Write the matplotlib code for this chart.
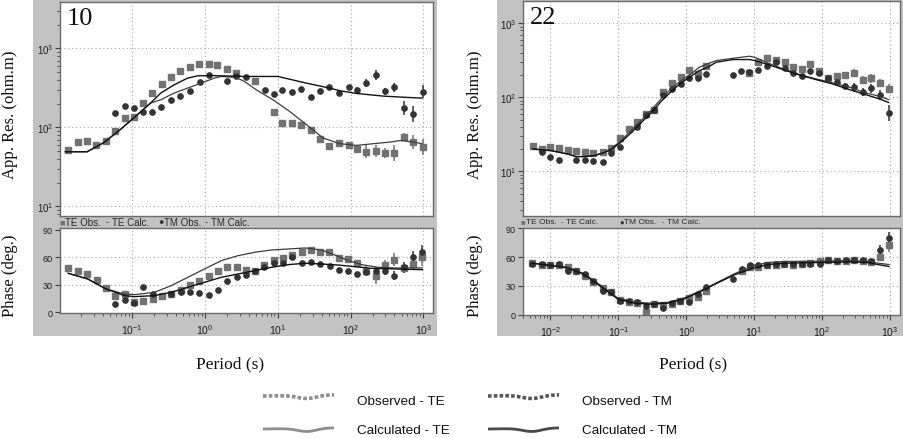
import numpy as np
import matplotlib
matplotlib.use('Agg')
import matplotlib.pyplot as plt
from matplotlib.patches import Rectangle
from matplotlib.ticker import LogLocator, LogFormatterSciNotation, NullFormatter, FixedLocator

plt.rcParams['font.family'] = ['Liberation Sans', 'DejaVu Sans']
plt.rcParams['mathtext.fontset'] = 'custom'
plt.rcParams['mathtext.rm'] = 'Liberation Sans'

W, H = 904, 439

# ---------------- site 10 (log10 period, value) ----------------
s10_te_lp = [-1.880, -1.747, -1.618, -1.490, -1.361, -1.232, -1.103, -0.975, -0.851, -0.722, -0.593, -0.464,
             -0.336, -0.207, -0.078, 0.051, 0.170, 0.299, 0.428, 0.685, 0.947, 1.062, 1.195, 1.324, 1.453,
             1.582, 1.710, 1.844, 1.972, 2.087, 2.216, 2.345, 2.474, 2.602, 2.731, 2.860, 2.993]
s10_te_rho = [51, 65, 67, 59, 67, 89, 131, 135, 201, 269, 352, 435, 513, 588, 641, 641, 622, 554, 480, 380,
              155, 112, 112, 106, 92, 72, 58, 63, 60, 53, 49, 50, 47, 47, 76, 65, 56]
s10_te_rho_err = [0] * 29 + [0.035, 0.085, 0.075, 0.065, 0.1, 0.05, 0.09, 0.1]

s10_tm_lp = [-1.232, -1.099, -0.970, -0.855, -0.726, -0.598, -0.469, -0.336, -0.207, -0.074, 0.055, 0.299,
             0.428, 0.561, 0.818, 0.947, 1.062, 1.195, 1.324, 1.453, 1.582, 1.710, 1.844, 1.972, 2.087,
             2.216, 2.345, 2.474, 2.602, 2.731, 2.860, 2.993]
s10_tm_rho = [150, 186, 177, 155, 155, 182, 219, 251, 290, 369, 461, 391, 448, 439, 299, 266, 299, 279, 304,
              244, 290, 326, 268, 326, 299, 362, 461, 284, 319, 175, 146, 282]
s10_tm_rho_err = [0] * 24 + [0.035, 0.05, 0.06, 0.05, 0.06, 0.09, 0.1, 0.085]

s10_te_ph_lp = [-1.876, -1.748, -1.615, -1.486, -1.358, -1.229, -1.096, -0.968, -0.849, -0.720, -0.592, -0.463,
                -0.335, -0.206, -0.078, 0.050, 0.179, 0.307, 0.436, 0.564, 0.683, 0.817, 0.945, 1.069, 1.197,
                1.326, 1.454, 1.583, 1.706, 1.839, 1.968, 2.087, 2.216, 2.344, 2.472, 2.601, 2.729, 2.858, 2.986]
s10_te_ph = [48.0, 44.7, 41.8, 34.9, 26.2, 17.8, 20.0, 11.6, 12.0, 14.2, 17.5, 20.0, 24.4, 29.5, 34.5, 39.3,
             45.5, 49.1, 49.1, 46.5, 44.7, 52.0, 57.5, 59.3, 62.2, 65.5, 68.0, 65.5, 65.8, 58.9, 58.2, 53.5,
             45.5, 39.3, 51.6, 57.5, 48.0, 53.1, 60.7]
s10_te_ph_err = [0] * 31 + [2, 5, 8, 6, 7, 5, 7, 10]

s10_tm_ph_lp = [-1.229, -1.096, -0.968, -0.849, -0.720, -0.463, -0.335, -0.206, -0.078, 0.050, 0.179, 0.307,
                0.436, 0.564, 0.683, 0.817, 0.945, 1.069, 1.197, 1.326, 1.454, 1.583, 1.711, 1.839, 1.968,
                2.087, 2.216, 2.344, 2.472, 2.601, 2.729, 2.858, 2.986]
s10_tm_ph = [9.1, 13.1, 10.5, 27.6, 20.0, 20.4, 22.5, 22.2, 21.1, 18.9, 24.7, 33.8, 38.5, 41.1, 45.5, 49.1,
             53.5, 53.5, 60.0, 53.8, 54.9, 52.7, 50.2, 46.2, 45.1, 41.5, 44.4, 44.7, 45.5, 40.0, 49.1, 60.0, 65.5]
s10_tm_ph_err = [0] * 25 + [2, 4, 5, 5, 5, 6, 7, 8]

# model curves, site 10
s10_te_calc_lp = [-1.917, -1.618, -1.389, -1.159, -0.929, -0.745, -0.607, -0.423, -0.239, -0.055, 0.129, 0.221,
                  0.428, 0.543, 0.703, 0.933, 1.163, 1.393, 1.623, 1.853, 2.083, 2.313, 2.543, 2.680, 2.864, 2.979]
s10_te_calc_rho = [49, 49, 64, 94, 144, 203, 223, 271, 313, 362, 419, 440, 427, 380, 299, 223, 159, 108, 73, 62,
                   59, 62, 65, 68, 65, 62]
s10_tm_calc_lp = [-1.917, -1.618, -1.389, -1.159, -0.929, -0.745, -0.607, -0.423, -0.239, -0.101, 0.083, 0.543,
                  1.002, 1.393, 1.715, 1.853, 2.083, 2.451, 2.772, 2.979]
s10_tm_calc_rho = [49, 49, 64, 94, 144, 203, 271, 345, 419, 448, 452, 440, 440, 362, 313, 290, 268, 248, 239, 234]

s10_te_pcalc_lp = [-1.876, -1.610, -1.358, -1.106, -0.968, -0.693, -0.463, -0.234, -0.005, 0.225, 0.454, 0.683,
                   0.913, 1.142, 1.372, 1.601, 1.830, 1.968, 2.151, 2.381, 2.610, 2.986]
s10_te_pcalc = [42.5, 36.4, 25.5, 20.0, 19.3, 21.8, 29.1, 38.2, 47.3, 56.4, 61.8, 65.5, 68.0, 69.1, 70.2, 68.0,
                61.1, 56.4, 52.0, 49.1, 48.4, 48.4]
s10_tm_pcalc_lp = [-1.876, -1.610, -1.358, -1.106, -0.968, -0.693, -0.463, -0.234, -0.005, 0.225, 0.454, 0.683,
                   0.913, 1.142, 1.372, 1.601, 1.830, 2.060, 2.289, 2.610, 2.986]
s10_tm_pcalc = [42.5, 36.4, 25.5, 18.2, 17.1, 18.2, 21.8, 27.3, 32.7, 38.2, 41.8, 45.5, 49.1, 52.0, 53.5, 52.7,
                51.6, 49.8, 48.0, 47.3, 46.5]

# ---------------- site 22 ----------------
s22_te_lp = [-2.260, -2.123, -2.000, -1.873, -1.745, -1.618, -1.490, -1.368, -1.225, -1.103, -0.975, -0.848,
             -0.725, -0.598, -0.471, -0.338, -0.211, -0.083, 0.039, 0.167, 0.289, 0.931, 1.054, 1.186, 1.324,
             1.456, 1.578, 1.701, 1.828, 1.951, 2.083, 2.216, 2.343, 2.466, 2.598, 2.721, 2.848, 2.980]
s22_te_rho = [21.8, 20.0, 21.3, 20.9, 19.4, 18.8, 18.1, 17.7, 18.1, 20.7, 28.2, 36.9, 46.0, 59.6, 68.1, 119,
              156, 186, 234, 209, 268, 211, 303, 337, 316, 297, 254, 239, 282, 229, 184, 196, 201, 215, 171,
              181, 156, 130]
s22_te_rho_err = [0] * 32 + [0.03, 0.045, 0.055, 0.06, 0.06, 0.06]

s22_tm_lp = [-2.123, -2.000, -1.873, -1.618, -1.490, -1.368, -1.225, -1.103, -0.975, -0.725, -0.598, -0.471,
             -0.338, -0.211, -0.083, 0.039, 0.167, 0.289, 0.686, 0.809, 0.931, 1.054, 1.186, 1.324, 1.456,
             1.578, 1.701, 1.828, 1.951, 2.083, 2.216, 2.343, 2.466, 2.598, 2.721, 2.848, 2.980]
s22_tm_rho = [18.1, 15.5, 14.1, 14.1, 14.4, 13.7, 13.2, 17.5, 21.1, 40.2, 57.2, 67.4, 108, 130, 150, 184, 181,
              207, 202, 224, 222, 237, 262, 297, 247, 213, 196, 224, 213, 181, 160, 144, 137, 117, 132, 108, 61]
s22_tm_rho_err = [0] * 30 + [0.03, 0.04, 0.06, 0.055, 0.06, 0.065, 0.11]

s22_te_ph_lp = [-2.270, -2.128, -2.000, -1.877, -1.739, -1.617, -1.489, -1.366, -1.228, -1.105, -0.982, -0.850,
                -0.727, -0.594, -0.471, -0.343, -0.215, -0.087, 0.040, 0.168, 0.291, 0.817, 0.940, 1.063, 1.191,
                1.319, 1.446, 1.574, 1.702, 1.825, 1.963, 2.091, 2.218, 2.346, 2.474, 2.602, 2.725, 2.853, 2.985]
s22_te_ph = [53.7, 52.3, 51.6, 51.6, 49.5, 45.3, 40.8, 33.8, 27.9, 23.4, 14.7, 12.9, 11.9, 2.4, 10.5, 10.1,
             10.5, 14.0, 17.4, 18.8, 25.1, 46.0, 49.5, 50.2, 51.3, 52.3, 53.0, 51.3, 53.0, 53.7, 56.5, 57.2,
             55.8, 56.5, 57.2, 56.5, 54.8, 60.0, 72.2]
s22_te_ph_err = [0] * 35 + [2, 2, 4, 7]

s22_tm_ph_lp = [-2.270, -2.128, -2.000, -1.877, -1.739, -1.617, -1.489, -1.366, -1.228, -1.105, -0.982, -0.850,
                -0.727, -0.594, -0.471, -0.343, -0.215, -0.087, 0.040, 0.168, 0.291, 0.689, 0.817, 0.940, 1.063,
                1.191, 1.319, 1.446, 1.574, 1.702, 1.825, 1.963, 2.091, 2.218, 2.346, 2.474, 2.602, 2.725,
                2.853, 2.985]
s22_tm_ph = [53.0, 53.0, 51.6, 53.0, 46.0, 46.0, 41.9, 34.9, 25.1, 23.4, 14.0, 14.0, 12.6, 9.4, 11.2, 6.6,
             11.9, 14.6, 12.6, 21.6, 29.3, 37.3, 47.8, 51.3, 51.3, 52.3, 53.0, 53.0, 53.0, 53.0, 53.0, 53.0,
             57.2, 56.5, 57.2, 57.2, 57.2, 56.5, 67.7, 80.2]
s22_tm_ph_err = [0] * 36 + [2, 2, 5, 6]

s22_calc_lp = [-2.260, -1.990, -1.745, -1.623, -1.500, -1.353, -1.225, -1.108, -0.961, -0.814, -0.667, -0.520,
               -0.373, -0.225, -0.078, 0.069, 0.191, 0.314, 0.441, 0.686, 0.931, 1.005, 1.176, 1.422, 1.667,
               1.912, 2.157, 2.402, 2.620, 2.843, 2.980]
s22_te_calc_rho = [20.0, 19.0, 17.1, 15.8, 15.8, 16.3, 17.7, 20.0, 26.0, 35.5, 48.4, 66.1, 94.8, 130, 168, 207,
                   254, 282, 313, 336, 358, 347, 297, 242, 202, 177, 156, 137, 116, 103, 93]
s22_tm_calc_rho = [20.0, 19.0, 17.1, 15.8, 15.8, 16.3, 17.7, 19.6, 24.7, 33.0, 45.0, 61.4, 87.3, 119, 156, 192,
                   229, 254, 297, 323, 323, 313, 282, 237, 200, 173, 151, 127, 110, 95, 85]

s22_pcalc_lp = [-2.270, -1.995, -1.749, -1.503, -1.258, -1.012, -0.766, -0.520, -0.274, -0.029, 0.217, 0.463,
                0.709, 0.955, 1.201, 1.446, 1.938, 2.430, 2.676, 2.823, 2.985]
s22_te_pcalc = [53.7, 51.3, 49.5, 42.6, 30.3, 17.4, 12.9, 11.9, 12.6, 17.4, 25.1, 33.8, 42.6, 50.2, 54.4, 55.5,
                55.8, 56.5, 55.5, 53.7, 52.3]
s22_tm_pcalc = [53.7, 51.3, 48.8, 41.9, 29.3, 16.4, 11.9, 10.8, 11.9, 16.4, 24.4, 33.1, 41.5, 47.8, 52.3, 53.7,
                54.4, 55.1, 54.4, 52.3, 50.2]

TE_COL = '#727272'
TM_COL = '#333333'
TE_LINE = '#3c3c3c'
TM_LINE = '#121212'
FRAME = '#c2c2c2'


def box(x0, y0, x1, y1):  # pixel box -> figure fraction
    return [x0 / W, 1 - y1 / H, (x1 - x0) / W, (y1 - y0) / H]


def obs(ax, lp, val, err, color, marker, ms, log_err):
    p = 10 ** np.asarray(lp)
    v = np.asarray(val, float)
    e = np.asarray(err, float)
    if log_err:
        yerr = [v - v / 10 ** e, v * 10 ** e - v]
    else:
        yerr = [e, e]
    ax.errorbar(p, v, yerr=yerr, fmt=marker, ms=ms, color=color, mec=color, ecolor=color,
                elinewidth=1.1, capsize=0, zorder=2)


def calc(ax, lp, val, color, lw):
    ax.plot(10 ** np.asarray(lp), val, color=color, lw=lw, zorder=3)


def style(ax):
    ax.set_facecolor('white')
    for s in ax.spines.values():
        s.set_color('#6a6a6a')
        s.set_linewidth(1.0)
    ax.tick_params(which='both', direction='out', color='#404040', labelsize=7, labelcolor='#1e1e1e')
    ax.tick_params(which='major', length=3.5, width=0.8, pad=1.5)
    ax.tick_params(which='minor', length=2, width=0.6)


def site_panels(rho_box, ph_box, xlim, rho_lim, ph_lim, name):
    ax_r = fig.add_axes(rho_box)
    ax_p = fig.add_axes(ph_box)
    for ax in (ax_r, ax_p):
        style(ax)
        ax.set_xscale('log')
        ax.set_xlim(10 ** xlim[0], 10 ** xlim[1])
        ax.xaxis.set_major_locator(LogLocator(base=10, numticks=12))
        ax.xaxis.set_minor_locator(LogLocator(base=10, subs=np.arange(2, 10), numticks=12))
        ax.xaxis.set_minor_formatter(NullFormatter())
        ax.grid(True, which='major', axis='x', linestyle=(0, (1, 2.5)), color='#a5a5a5', lw=0.8)
        ax.set_axisbelow(True)
    ax_r.set_yscale('log')
    ax_r.set_ylim(10 ** rho_lim[0], 10 ** rho_lim[1])
    ax_r.yaxis.set_major_locator(LogLocator(base=10, numticks=10))
    ax_r.yaxis.set_major_formatter(LogFormatterSciNotation())
    ax_r.yaxis.set_minor_locator(LogLocator(base=10, subs=np.arange(2, 10), numticks=10))
    ax_r.yaxis.set_minor_formatter(NullFormatter())
    ax_r.grid(True, which='major', axis='y', linestyle=(0, (1, 2.5)), color='#a5a5a5', lw=0.8)
    ax_r.tick_params(axis='x', which='both', bottom=False, labelbottom=False)
    ax_r.text(0.018, 0.975, name, transform=ax_r.transAxes, ha='left', va='top',
              family='Liberation Serif', fontsize=19, color='#111111')

    ax_p.set_ylim(*ph_lim)
    ax_p.yaxis.set_major_locator(FixedLocator([0, 30, 60, 90]))
    ax_p.grid(True, which='major', axis='y', linestyle=(0, (1, 2.5)), color='#a5a5a5', lw=0.8)
    gl = ax_p.yaxis.get_gridlines()
    gl[0].set_visible(False)
    gl[-1].set_visible(False)
    ax_p.xaxis.set_major_formatter(LogFormatterSciNotation())
    ax_p.tick_params(axis='x', which='major', labelsize=7.5, pad=3)
    ax_p.tick_params(axis='y', labelsize=6.5)
    return ax_r, ax_p


fig = plt.figure(figsize=(W / 100, H / 100), dpi=100)

# gray frames behind panels
for x0, x1 in ((33, 437), (497, 904)):
    fig.add_artist(Rectangle((x0 / W, 1 - 337 / H), (x1 - x0) / W, 337 / H, transform=fig.transFigure,
                             facecolor=FRAME, edgecolor='none', zorder=-5))

# ---- site 10 ----
r10, p10 = site_panels(box(60, 3, 433, 217), box(60, 229, 433, 314.3), (-1.99, 3.131), (0.877, 3.586),
                       (-1.1, 92), '10')
obs(r10, s10_te_lp, s10_te_rho, s10_te_rho_err, TE_COL, 's', 4.3, True)
obs(r10, s10_tm_lp, s10_tm_rho, s10_tm_rho_err, TM_COL, 'o', 3.8, True)
calc(r10, s10_te_calc_lp, s10_te_calc_rho, TE_LINE, 0.9)
calc(r10, s10_tm_calc_lp, s10_tm_calc_rho, TM_LINE, 1.0)
obs(p10, s10_te_ph_lp, s10_te_ph, s10_te_ph_err, TE_COL, 's', 4.3, False)
obs(p10, s10_tm_ph_lp, s10_tm_ph, s10_tm_ph_err, TM_COL, 'o', 3.8, False)
calc(p10, s10_te_pcalc_lp, s10_te_pcalc, TE_LINE, 0.9)
calc(p10, s10_tm_pcalc_lp, s10_tm_pcalc, TM_LINE, 1.0)

# ---- site 22 ----
r22, p22 = site_panels(box(523, 2, 900, 217), box(523, 229, 900, 316), (-2.404, 3.147), (0.396, 3.30),
                       (-0.5, 90.5), '22')
obs(r22, s22_te_lp, s22_te_rho, s22_te_rho_err, TE_COL, 's', 4.3, True)
obs(r22, s22_tm_lp, s22_tm_rho, s22_tm_rho_err, TM_COL, 'o', 3.8, True)
calc(r22, s22_calc_lp, s22_te_calc_rho, TE_LINE, 0.9)
calc(r22, s22_calc_lp, s22_tm_calc_rho, TM_LINE, 1.0)
obs(p22, s22_te_ph_lp, s22_te_ph, s22_te_ph_err, TE_COL, 's', 4.3, False)
obs(p22, s22_tm_ph_lp, s22_tm_ph, s22_tm_ph_err, TM_COL, 'o', 3.8, False)
calc(p22, s22_pcalc_lp, s22_te_pcalc, TE_LINE, 0.9)
calc(p22, s22_pcalc_lp, s22_tm_pcalc, TM_LINE, 1.0)

# legend strip between the panels: (marker, marker colour, label)
strip = [('\u25a0', TE_COL, 'TE Obs.'), ('-', '#333333', 'TE Calc.'),
         ('\u25cf', TM_COL, 'TM Obs.'), ('-', '#333333', 'TM Calc.')]
for xs, fs in (((59, 106, 158, 205), 7), ((521, 561, 619, 662), 6)):
    for (mk, mc, txt), x in zip(strip, xs):
        fig.text(x / W, 1 - 223 / H, mk, ha='left', va='center', fontsize=fs - 0.5, color=mc)
        fig.text((x + fs - 1) / W, 1 - 223 / H, txt, ha='left', va='center', fontsize=fs, color='#2a2a2a')

# axis titles
serif = 'Liberation Serif'
for xc in (10, 475):
    fig.text(xc / W, 1 - 115 / H, 'App. Res. (ohm.m)', rotation=90, ha='center', va='center',
             family=serif, fontsize=12, color='#111111')
    fig.text(xc / W, 1 - 276 / H, 'Phase (deg.)', rotation=90, ha='center', va='center',
             family=serif, fontsize=12, color='#111111')
for xc in (230, 693):
    fig.text(xc / W, 1 - 364 / H, 'Period (s)', ha='center', va='center', family=serif, fontsize=12.5,
             color='#111111')

# bottom key with wavy line glyphs
key = fig.add_axes(box(250, 380, 700, 445))
key.set_xlim(250, 700)
key.set_ylim(445, 380)
key.axis('off')
t = np.linspace(0, 1, 120)
wave = 3.2 * np.exp(-((t - 0.62) / 0.19) ** 2) - 1.2 * t
entries = [(263, 397, 402, 'Observed - TE', '#8e8e8e', (0, (1, 0.6)), 2.6),
           (263, 430, 431, 'Calculated - TE', '#8e8e8e', '-', 2.0),
           (488, 397, 402, 'Observed - TM', '#575757', (0, (1, 0.6)), 2.6),
           (488, 430, 431, 'Calculated - TM', '#4a4a4a', '-', 2.0)]
for x0, yl, yt, label, c, ls, lw in entries:
    key.plot(x0 + 71 * t, yl + wave, color=c, ls=ls, lw=lw, solid_capstyle='butt')
    key.text(x0 + 94, yt, label, ha='left', va='center', fontsize=9.7, color='#111111')

fig.savefig('out.png', dpi=100)
